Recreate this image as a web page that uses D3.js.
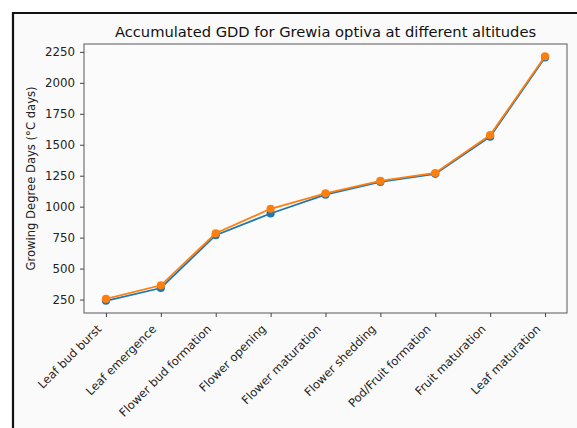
<!DOCTYPE html>
<html>
<head>
<meta charset="utf-8">
<script src="https://cdn.jsdelivr.net/npm/d3@7"></script>
<style>
  body { margin: 0; background: #ffffff; }
  svg { display: block; }
</style>
</head>
<body>
<div id="chart"></div>
<script>
// phenological stages and accumulated GDD at the two altitudes
var stages = ["Leaf bud burst", "Leaf emergence", "Flower bud formation", "Flower opening",
  "Flower maturation", "Flower shedding", "Pod/Fruit formation", "Fruit maturation", "Leaf maturation"];
var gddLow = [240, 343, 770, 945, 1097, 1200, 1265, 1565, 2205];
var gddHigh = [255, 365, 785, 983, 1108, 1208, 1272, 1578, 2215];
var yTicks = [250, 500, 750, 1000, 1250, 1500, 1750, 2000, 2250];

var width = 577, height = 428;
var margin = { top: 44, right: 10, bottom: 115, left: 84 };

var svg = d3.select("#chart").append("svg")
  .attr("width", width)
  .attr("height", height);

// figure background with the dark frame on top and left
svg.append("rect").attr("x", 13).attr("y", 12).attr("width", width - 13).attr("height", height - 12)
  .attr("fill", "#fafafa");
svg.append("path")
  .attr("d", "M13," + height + "V13H" + width)
  .attr("fill", "none").attr("stroke", "#111").attr("stroke-width", 2.2);

var x = d3.scalePoint()
  .domain(stages)
  .range([margin.left, width - margin.right])
  .padding(0.4);

var allVals = gddLow.concat(gddHigh);
var lo = d3.min(allVals), hi = d3.max(allVals), pad = (hi - lo) * 0.05;
var y = d3.scaleLinear()
  .domain([lo - pad, hi + pad])
  .range([height - margin.bottom, margin.top]);

var plot = svg.append("g");
plot.append("rect")
  .attr("x", margin.left).attr("y", margin.top)
  .attr("width", width - margin.left - margin.right)
  .attr("height", height - margin.top - margin.bottom)
  .attr("fill", "#fbfbfb")
  .attr("stroke", "#666").attr("stroke-width", 1.1);

var font = "DejaVu Sans, sans-serif";

var yAxis = svg.append("g")
  .attr("transform", "translate(" + margin.left + ",0)")
  .call(d3.axisLeft(y).tickValues(yTicks).tickFormat(d3.format("d")).tickSize(4).tickPadding(5));
yAxis.select(".domain").remove();
yAxis.selectAll("line").attr("stroke", "#444");
yAxis.selectAll("text").attr("font-family", font).attr("font-size", 11.8).attr("fill", "#222");

var xAxis = svg.append("g")
  .attr("transform", "translate(0," + (height - margin.bottom) + ")")
  .call(d3.axisBottom(x).tickSize(4).tickPadding(3));
xAxis.select(".domain").remove();
xAxis.selectAll("line").attr("stroke", "#444");
xAxis.selectAll("text")
  .attr("font-family", font).attr("font-size", 11.6).attr("fill", "#222")
  .attr("text-anchor", "end")
  .attr("dy", "0.7em")
  .attr("transform", "translate(-15,6) rotate(-45)");

var line = function(vals) {
  return d3.line()
    .x(function(d, i) { return x(stages[i]); })
    .y(function(d) { return y(d); })(vals);
};

[{ vals: gddLow, color: "#1f77b4" }, { vals: gddHigh, color: "#ff7f0e" }].forEach(function(s) {
  svg.append("path")
    .attr("d", line(s.vals))
    .attr("fill", "none")
    .attr("stroke", s.color)
    .attr("stroke-width", 1.8);
  svg.selectAll(null)
    .data(s.vals)
    .enter()
    .append("circle")
    .attr("cx", function(d, i) { return x(stages[i]); })
    .attr("cy", function(d) { return y(d); })
    .attr("r", 4.1)
    .attr("fill", s.color);
});

svg.append("text")
  .attr("x", (margin.left + width - margin.right) / 2)
  .attr("y", 37)
  .attr("text-anchor", "middle")
  .attr("font-family", font)
  .attr("font-size", 14.7)
  .attr("fill", "#111")
  .text("Accumulated GDD for Grewia optiva at different altitudes");

svg.append("text")
  .attr("transform", "translate(35," + ((margin.top + height - margin.bottom) / 2) + ") rotate(-90)")
  .attr("text-anchor", "middle")
  .attr("font-family", font)
  .attr("font-size", 11.6)
  .attr("fill", "#222")
  .text("Growing Degree Days (\u00b0C days)");
</script>
</body>
</html>
